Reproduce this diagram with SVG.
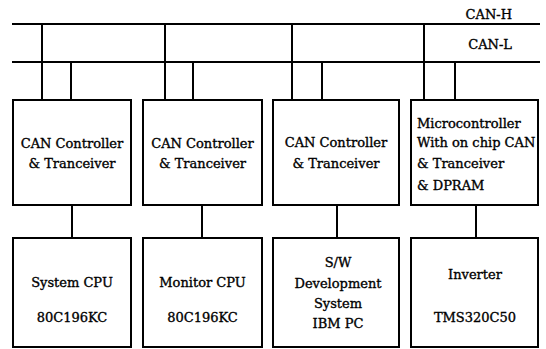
<svg xmlns="http://www.w3.org/2000/svg" width="546" height="349" viewBox="0 0 546 349">
<style>
.box{fill:#fff;stroke:#000;stroke-width:2}
.ln{stroke:#000;stroke-width:2;fill:none}
text{font-family:"DejaVu Serif","Liberation Serif",serif;font-size:13px;fill:#000;stroke:#000;stroke-width:0.35}
.c{text-anchor:middle}
.r{text-anchor:end}
</style>
<rect width="546" height="349" fill="#fff"/>
<g id="connectors">
<line class="ln" x1="12" y1="24" x2="540" y2="24"/>
<line class="ln" x1="12" y1="62" x2="540" y2="62"/>
<line class="ln" x1="42" y1="24" x2="42" y2="100"/>
<line class="ln" x1="71" y1="62" x2="71" y2="100"/>
<line class="ln" x1="165" y1="24" x2="165" y2="100"/>
<line class="ln" x1="193" y1="62" x2="193" y2="100"/>
<line class="ln" x1="292" y1="24" x2="292" y2="100"/>
<line class="ln" x1="322" y1="62" x2="322" y2="100"/>
<line class="ln" x1="424" y1="24" x2="424" y2="100"/>
<line class="ln" x1="455" y1="62" x2="455" y2="100"/>
<line class="ln" x1="72" y1="205" x2="72" y2="238"/>
<line class="ln" x1="202" y1="205" x2="202" y2="238"/>
<line class="ln" x1="337" y1="205" x2="337" y2="238"/>
<line class="ln" x1="476" y1="205" x2="476" y2="238"/>
</g>
<g id="bus-labels">
<text class="r" x="512" y="19">CAN-H</text>
<text class="r" x="512" y="49">CAN-L</text>
</g>
<g id="can1">
<rect class="box" x="13" y="100" width="118" height="105"/>
<text class="c" x="72" y="148">CAN Controller</text>
<text class="c" x="72" y="168">&amp; Tranceiver</text>
</g>
<g id="can2">
<rect class="box" x="143" y="100" width="119" height="105"/>
<text class="c" x="202.5" y="148">CAN Controller</text>
<text class="c" x="202.5" y="168">&amp; Tranceiver</text>
</g>
<g id="can3">
<rect class="box" x="273" y="100" width="126" height="105"/>
<text class="c" x="336" y="147">CAN Controller</text>
<text class="c" x="336" y="168">&amp; Tranceiver</text>
</g>
<g id="mcu">
<rect class="box" x="411" y="100" width="127" height="105"/>
<text x="417" y="128">Microcontroller</text>
<text x="417" y="147">With on chip CAN</text>
<text x="417" y="168">&amp; Tranceiver</text>
<text x="417" y="190">&amp; DPRAM</text>
</g>
<g id="syscpu">
<rect class="box" x="13" y="238" width="118" height="109"/>
<text class="c" x="72" y="287">System CPU</text>
<text class="c" x="72" y="322">80C196KC</text>
</g>
<g id="moncpu">
<rect class="box" x="143" y="238" width="119" height="109"/>
<text class="c" x="202.5" y="287">Monitor CPU</text>
<text class="c" x="202.5" y="322">80C196KC</text>
</g>
<g id="devsys">
<rect class="box" x="273" y="238" width="126" height="109"/>
<text class="c" x="338" y="267">S/W</text>
<text class="c" x="338" y="288">Development</text>
<text class="c" x="338" y="308">System</text>
<text class="c" x="338" y="328">IBM PC</text>
</g>
<g id="inverter">
<rect class="box" x="411" y="238" width="127" height="109"/>
<text class="c" x="475" y="279">Inverter</text>
<text class="c" x="475" y="322">TMS320C50</text>
</g>
</svg>
